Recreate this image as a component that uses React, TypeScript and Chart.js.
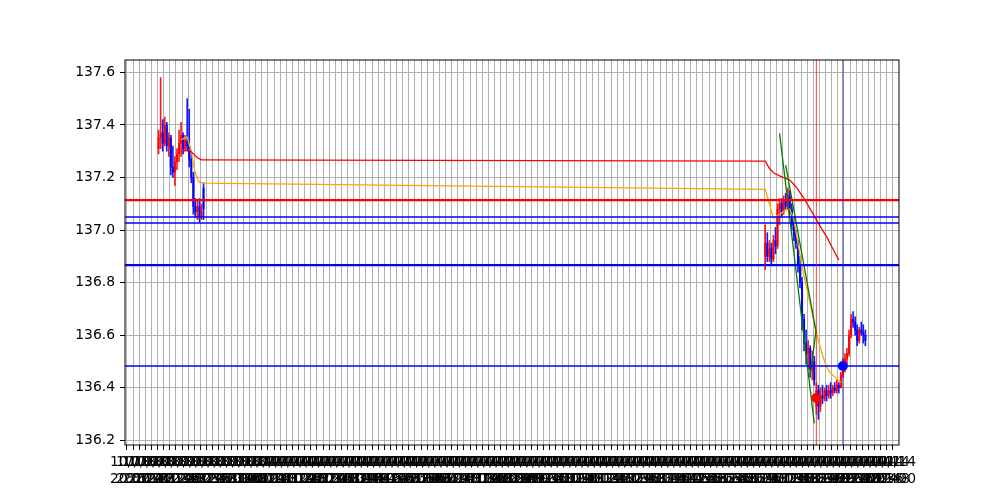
import React, { useEffect, useRef } from "react";
import { Chart, registerables } from "chart.js";

Chart.register(...registerables);

// ---------- tick labels (one every 3 candles) ----------
const tickLabels: string[] = [
  "10/13 20:00", "10/13 20:12", "10/13 20:24", "10/13 20:36", "10/13 20:48",
  "10/13 21:00", "10/13 21:12", "10/13 21:24", "10/13 21:36", "10/13 21:48",
  "10/13 22:00", "10/13 22:12", "10/13 22:24", "10/13 22:36", "10/13 22:48",
  "10/13 23:00", "10/13 23:12", "10/13 23:24", "10/13 23:36", "10/13 23:48",
  "10/14 00:00", "10/14 00:12", "10/14 00:24", "10/14 00:36", "10/14 00:48",
  "10/14 01:00", "10/14 01:12", "10/14 01:24", "10/14 01:36", "10/14 01:48",
  "10/14 02:00", "10/14 02:12", "10/14 02:24", "10/14 02:36", "10/14 02:48",
  "10/14 03:00", "10/14 03:12", "10/14 03:24", "10/14 03:36", "10/14 03:48",
  "10/14 04:00", "10/14 04:12", "10/14 04:24", "10/14 04:36", "10/14 04:48",
  "10/14 05:00", "10/14 05:12", "10/14 05:24", "10/14 05:36", "10/14 05:48",
  "10/14 06:00", "10/14 06:12", "10/14 06:24", "10/14 06:36", "10/14 06:48",
  "10/14 07:00", "10/14 07:12", "10/14 07:24", "10/14 07:36", "10/14 07:48",
  "10/14 08:00", "10/14 08:12", "10/14 08:24", "10/14 08:36", "10/14 08:48",
  "10/14 09:00", "10/14 09:12", "10/14 09:24", "10/14 09:36", "10/14 09:48",
  "10/14 10:00", "10/14 10:12", "10/14 10:24", "10/14 10:36", "10/14 10:48",
  "10/14 11:00", "10/14 11:12", "10/14 11:24", "10/14 11:36", "10/14 11:48",
  "10/14 12:00", "10/14 12:12", "10/14 12:24", "10/14 12:36", "10/14 12:48",
  "10/14 13:00", "10/14 13:12", "10/14 13:24", "10/14 13:36", "10/14 13:48",
  "10/14 14:00", "10/14 14:12", "10/14 14:24", "10/14 14:36", "10/14 14:48",
  "10/14 15:00", "10/14 15:12", "10/14 15:24", "10/14 15:36", "10/14 15:48",
  "10/14 16:00", "10/14 16:12", "10/14 16:24", "10/14 16:36", "10/14 16:48",
  "10/14 17:00", "10/14 17:12", "10/14 17:24", "10/14 17:36", "10/14 17:48",
  "10/14 18:00", "10/14 18:12", "10/14 18:24", "10/14 18:36", "10/14 18:48",
  "10/14 19:00", "10/14 19:12", "10/14 19:24", "10/14 19:36", "10/14 19:48",
  "10/14 20:00", "10/14 20:12", "10/14 20:24", "10/14 20:36", "10/14 20:48",
  "10/14 21:00",
];
const TICK_STEP = 3; // candles per tick
const X_MIN = -2.45;
const X_MAX = 376.47;

const yTicks = [136.2, 136.4, 136.6, 136.8, 137.0, 137.2, 137.4, 137.6];
const Y_MIN = 136.1825;
const Y_MAX = 137.647;

// ---------- candles ----------
const candleIdx = [
  14, 15, 16, 17, 18, 19, 20, 21, 22, 23, 24, 25, 26, 27, 28, 29, 30, 31, 32, 33, 34, 35, 36,
  311, 312, 313, 314, 315, 316, 317, 318, 319, 320,
  321, 322, 323, 324, 325, 326, 327, 328, 329, 330,
  331, 332, 333, 334, 335, 336, 337, 338, 339, 340,
  341, 342, 343, 344, 345, 346, 347, 348, 349, 350,
  351, 352, 353, 354, 355, 356, 357, 358, 359, 360,
];
const opens = [
  137.31, 137.35, 137.37, 137.33, 137.40, 137.32, 137.35, 137.24, 137.22, 137.26,
  137.29, 137.33, 137.36, 137.31, 137.34, 137.32, 137.27, 137.20, 137.09, 137.07,
  137.09, 137.05, 137.16,
  136.90, 136.95, 136.90, 136.93, 136.89, 136.96, 136.94, 137.08, 137.10, 137.07,
  137.11, 137.09, 137.13, 137.08, 137.02, 136.98, 136.95, 136.87, 136.80, 136.66,
  136.57, 136.53, 136.55, 136.47, 136.50, 136.33, 136.39, 136.33, 136.37, 136.36,
  136.39, 136.37, 136.39, 136.38, 136.40, 136.39, 136.41, 136.40, 136.45, 136.48,
  136.51, 136.53, 136.60, 136.66, 136.65, 136.62, 136.58, 136.62, 136.61, 136.60,
];
const highs = [
  137.38, 137.58, 137.42, 137.43, 137.41, 137.37, 137.36, 137.32, 137.28, 137.31,
  137.38, 137.41, 137.37, 137.36, 137.50, 137.46, 137.30, 137.22, 137.12, 137.11,
  137.12, 137.10, 137.18,
  137.02, 136.99, 136.96, 136.95, 136.98, 137.01, 137.10, 137.12, 137.12, 137.13,
  137.14, 137.16, 137.15, 137.10, 137.05, 137.00, 136.96, 136.90, 136.82, 136.68,
  136.62, 136.58, 136.56, 136.54, 136.52, 136.42, 136.41, 136.40, 136.41, 136.40,
  136.41, 136.41, 136.42, 136.41, 136.42, 136.43, 136.42, 136.46, 136.51, 136.53,
  136.55, 136.62, 136.68, 136.69, 136.67, 136.64, 136.63, 136.65, 136.64, 136.62,
];
const lows = [
  137.29, 137.31, 137.30, 137.32, 137.30, 137.28, 137.21, 137.20, 137.17, 137.23,
  137.26, 137.28, 137.29, 137.30, 137.30, 137.24, 137.18, 137.06, 137.05, 137.04,
  137.03, 137.04, 137.04,
  136.85, 136.88, 136.88, 136.87, 136.88, 136.91, 136.93, 137.02, 137.05, 137.06,
  137.08, 137.08, 137.06, 137.00, 136.96, 136.93, 136.84, 136.78, 136.62, 136.54,
  136.49, 136.47, 136.44, 136.43, 136.41, 136.30, 136.28, 136.31, 136.34, 136.35,
  136.35, 136.36, 136.36, 136.37, 136.38, 136.38, 136.38, 136.40, 136.44, 136.46,
  136.49, 136.52, 136.59, 136.63, 136.60, 136.56, 136.57, 136.60, 136.57, 136.56,
];
const closes = [
  137.35, 137.37, 137.33, 137.40, 137.32, 137.35, 137.24, 137.22, 137.26, 137.29,
  137.33, 137.36, 137.31, 137.34, 137.32, 137.27, 137.20, 137.09, 137.07, 137.09,
  137.05, 137.07, 137.08,
  136.95, 136.90, 136.93, 136.89, 136.96, 136.94, 137.08, 137.10, 137.07, 137.11,
  137.09, 137.13, 137.08, 137.02, 136.98, 136.95, 136.87, 136.80, 136.66, 136.57,
  136.53, 136.55, 136.47, 136.50, 136.43, 136.39, 136.33, 136.37, 136.36, 136.39,
  136.37, 136.39, 136.38, 136.40, 136.39, 136.41, 136.40, 136.45, 136.48, 136.51,
  136.53, 136.60, 136.66, 136.65, 136.62, 136.58, 136.62, 136.61, 136.60, 136.58,
];

// ---------- moving averages ----------
const orangeIdx = [25, 26, 28, 30, 31, 32, 33, 34, 36, 311, 313, 315, 318, 321, 323, 325, 327, 329, 331, 333, 335, 337, 339, 341, 343, 346, 348];
const orangeVals = [137.343, 137.348, 137.354, 137.30, 137.25, 137.217, 137.195, 137.182, 137.179, 137.155, 137.10, 137.045, 137.06, 137.076, 137.08, 137.04, 136.95, 136.86, 136.79, 136.72, 136.645, 136.58, 136.525, 136.48, 136.455, 136.435, 136.42];
const redMaIdx = [25, 27, 29, 31, 33, 35, 36, 311, 313, 315, 318, 323, 326, 330, 333, 336, 339, 341, 344, 347];
const redMaVals = [137.297, 137.303, 137.305, 137.29, 137.275, 137.267, 137.267, 137.262, 137.235, 137.218, 137.206, 137.19, 137.165, 137.12, 137.08, 137.04, 137.0, 136.975, 136.93, 136.886];

// ---------- green trend lines ----------
const greenAIdx = [318, 335];
const greenAVals = [137.368, 136.265];
const greenBIdx = [321, 335.8, 332.9];
const greenBVals = [137.247, 136.616, 136.44];

// ---------- horizontal / vertical levels ----------
const hLevels = [137.114, 137.05, 137.027, 136.867, 136.483];
const hColors = ["#ff0000", "#0000ff", "#0000ff", "#0000ff", "#0000ff"];
const hWidths = [2.2, 1.5, 1.5, 2.2, 1.5];

const vLines = [336, 349];
const vColors = ["rgba(255,0,0,0.8)", "rgba(30,30,150,0.8)"];

const markerIdx = [336, 349];
const markerVals = [136.361, 136.483];
const markerColors = ["#ff0000", "#0000ff"];

const framePlugin = {
  id: "frame",
  afterDatasetsDraw(chart: any) {
    const { ctx, chartArea: a } = chart;
    ctx.save();
    ctx.strokeStyle = "#000";
    ctx.lineWidth = 1;
    ctx.strokeRect(a.left, a.top, a.right - a.left, a.bottom - a.top);
    ctx.restore();
  },
};

export default function App() {
  const ref = useRef<HTMLCanvasElement>(null);

  useEffect(() => {
    if (!ref.current) return;
    const up = closes.map((c, i) => c >= opens[i]);
    const colors = up.map((u) => (u ? "rgba(255,0,0,0.9)" : "rgba(0,0,255,0.9)"));
    const wickData = candleIdx.map((x, i) => ({ x, y: [lows[i], highs[i]] }));
    const bodyData = candleIdx.map((x, i) => ({
      x,
      y: [Math.min(opens[i], closes[i]), Math.max(opens[i], closes[i])],
    }));
    const pts = (xs: number[], ys: number[]) => xs.map((x, i) => ({ x, y: ys[i] }));

    const line = (data: any[], color: string, width: number, order: number) => ({
      type: "line",
      data,
      borderColor: color,
      backgroundColor: color,
      borderWidth: width,
      pointRadius: 0,
      tension: 0,
      fill: false,
      order,
    });

    const datasets: any[] = [
      {
        type: "bar",
        data: wickData,
        backgroundColor: colors,
        borderWidth: 0,
        barThickness: 1,
        grouped: false,
        order: 20,
      },
      {
        type: "bar",
        data: bodyData,
        backgroundColor: colors,
        borderWidth: 0,
        barThickness: 1.4,
        grouped: false,
        minBarLength: 1,
        order: 19,
      },
      line(pts(orangeIdx, orangeVals), "#ffa500", 1.3, 12),
      line(pts(redMaIdx, redMaVals), "#ff0000", 1.3, 11),
      line(pts(greenAIdx, greenAVals), "#008000", 1.3, 10),
      line(pts(greenBIdx, greenBVals), "#008000", 1.3, 10),
      ...hLevels.map((lv, i) =>
        line([{ x: X_MIN, y: lv }, { x: X_MAX, y: lv }], hColors[i], hWidths[i], 8)
      ),
      ...vLines.map((vx, i) =>
        line([{ x: vx, y: Y_MIN }, { x: vx, y: Y_MAX }], vColors[i], 1, 6)
      ),
      ...markerIdx.map((mx, i) => ({
        type: "line",
        data: [{ x: mx, y: markerVals[i] }],
        showLine: false,
        pointRadius: 5,
        pointBackgroundColor: markerColors[i],
        pointBorderColor: markerColors[i],
        pointBorderWidth: 0,
        order: 1,
      })),
    ];

    const font = { family: "'DejaVu Sans'", size: 13.9 };

    const chart = new Chart(ref.current, {
      type: "bar",
      data: { datasets },
      options: {
        animation: false,
        responsive: false,
        events: [],
        layout: { padding: { top: 60, right: 101, left: 0, bottom: 0 } },
        plugins: { legend: { display: false }, tooltip: { enabled: false } },
        scales: {
          x: {
            type: "linear",
            min: X_MIN,
            max: X_MAX,
            bounds: "data",
            offset: false,
            afterBuildTicks: (s: any) => {
              s.ticks = tickLabels.map((_, i) => ({ value: i * TICK_STEP }));
            },
            afterFit: (s: any) => {
              s.height = 55;
            },
            ticks: {
              autoSkip: false,
              maxRotation: 0,
              minRotation: 0,
              padding: 4,
              color: "#000",
              font,
              callback: (_v: any, i: number) => tickLabels[i].split(" "),
            },
            grid: {
              color: "#b0b0b0",
              lineWidth: 1,
              tickColor: "#000",
              tickLength: 5,
              tickWidth: 1,
            },
            border: { display: false },
          },
          y: {
            type: "linear",
            min: Y_MIN,
            max: Y_MAX,
            bounds: "data",
            afterBuildTicks: (s: any) => {
              s.ticks = yTicks.map((v) => ({ value: v }));
            },
            afterFit: (s: any) => {
              s.width = 125;
            },
            ticks: {
              padding: 5,
              color: "#000",
              font,
              callback: (v: any) => Number(v).toFixed(1),
            },
            grid: {
              color: "#b0b0b0",
              lineWidth: 1,
              tickColor: "#000",
              tickLength: 5,
              tickWidth: 1,
            },
            border: { display: false },
          },
        },
      } as any,
      plugins: [framePlugin],
    });
    return () => chart.destroy();
  }, []);

  return (
    <div style={{ position: "absolute", left: 0, top: 0, width: 1000, height: 500, background: "#fff" }}>
      <canvas ref={ref} width={1000} height={500} style={{ display: "block" }} />
    </div>
  );
}
